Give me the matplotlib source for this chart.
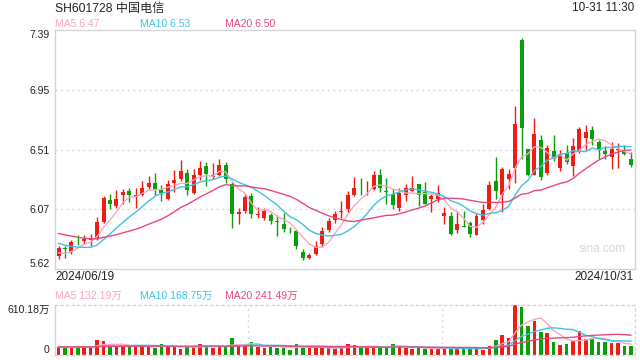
import numpy as np
import pandas as pd
import matplotlib
matplotlib.use("Agg")
import matplotlib.pyplot as plt

plt.rcParams['font.family'] = ['Liberation Sans', 'Noto Sans CJK SC', 'DejaVu Sans']

title = "SH601728 中国电信"
stamp = "10-31 11:30"
start_label = "2024/06/19"
end_label = "2024/10/31"
price_ticks = ["5.62", "6.07", "6.51", "6.95", "7.39"]
vol_max = 610.18
vol_unit = "万"

# closes of the 19 sessions before the window (estimated from the MA lines)
prev_close = [5.98, 5.99, 6.00, 5.97, 5.96, 5.95, 5.94, 5.93, 5.92, 5.92,
              5.91, 5.90, 5.88, 5.86, 5.85, 5.80, 5.74, 5.70, 5.69]
prev_vol = [98, 105, 92, 110, 101, 96, 104, 99, 93, 108,
            102, 97, 95, 100, 106, 94, 99, 103, 97]

opens = [5.719, 5.775, 5.748, 5.830, 5.827, 5.832, 5.842, 5.969, 6.134, 6.085,
         6.171, 6.200, 6.151, 6.166, 6.230, 6.259, 6.215, 6.141, 6.259, 6.289,
         6.333, 6.183, 6.318, 6.382, 6.304, 6.313, 6.392, 6.252, 6.026, 6.048,
         6.161, 6.019, 6.001, 6.021, 5.972, 5.950, 5.905, 5.903, 5.748, 5.704,
         5.731, 5.805, 5.908, 5.982, 6.041, 6.063, 6.171, 6.222, 6.225, 6.215,
         6.318, 6.197, 6.178, 6.073, 6.171, 6.200, 6.250, 6.190, 6.137, 6.141,
         6.011, 6.011, 5.908, 5.935, 5.962, 5.871, 5.982, 6.063, 6.274, 6.166,
         6.284, 6.370, 7.316, 6.505, 6.316, 6.579, 6.329, 6.491, 6.370, 6.476,
         6.383, 6.486, 6.591, 6.646, 6.564, 6.491, 6.449, 6.501, 6.500, 6.437]
highs = [5.790, 5.790, 5.832, 5.871, 5.871, 5.876, 6.004, 6.161, 6.178, 6.203,
         6.210, 6.222, 6.220, 6.274, 6.309, 6.333, 6.245, 6.281, 6.355, 6.424,
         6.363, 6.358, 6.422, 6.412, 6.404, 6.436, 6.412, 6.264, 6.073, 6.178,
         6.186, 6.080, 6.073, 6.036, 6.019, 6.036, 5.933, 5.913, 5.768, 5.736,
         5.827, 5.933, 6.001, 6.051, 6.122, 6.196, 6.301, 6.294, 6.274, 6.343,
         6.363, 6.294, 6.215, 6.223, 6.252, 6.309, 6.250, 6.264, 6.178, 6.240,
         6.080, 6.043, 6.048, 6.051, 5.974, 6.036, 6.105, 6.269, 6.453, 6.375,
         6.363, 6.830, 7.330, 6.510, 6.739, 6.609, 6.542, 6.616, 6.505, 6.537,
         6.591, 6.670, 6.690, 6.677, 6.579, 6.530, 6.562, 6.555, 6.542, 6.488]
lows = [5.697, 5.705, 5.734, 5.797, 5.802, 5.789, 5.834, 5.964, 6.063, 6.073,
        6.105, 6.117, 6.073, 6.161, 6.215, 6.171, 6.127, 6.129, 6.190, 6.274,
        6.166, 6.178, 6.277, 6.232, 6.284, 6.309, 6.257, 5.920, 5.950, 6.036,
        6.001, 5.999, 5.982, 5.952, 5.864, 5.896, 5.883, 5.766, 5.684, 5.694,
        5.724, 5.780, 5.896, 5.962, 6.001, 6.036, 6.161, 6.171, 6.166, 6.203,
        6.190, 6.105, 6.063, 6.051, 6.122, 6.195, 6.085, 6.102, 6.043, 6.117,
        5.950, 5.871, 5.883, 5.928, 5.856, 5.871, 5.950, 6.055, 6.141, 6.043,
        6.210, 6.255, 6.432, 6.310, 6.316, 6.279, 6.316, 6.420, 6.346, 6.397,
        6.309, 6.481, 6.505, 6.542, 6.437, 6.432, 6.358, 6.370, 6.464, 6.378]
closes = [5.773, 5.765, 5.817, 5.825, 5.842, 5.851, 5.969, 6.149, 6.105, 6.141,
          6.188, 6.171, 6.171, 6.222, 6.259, 6.210, 6.186, 6.252, 6.281, 6.343,
          6.203, 6.318, 6.370, 6.326, 6.313, 6.392, 6.289, 6.024, 6.043, 6.154,
          6.026, 6.024, 6.053, 5.974, 5.967, 5.915, 5.900, 5.790, 5.699, 5.724,
          5.790, 5.903, 5.979, 6.024, 6.048, 6.171, 6.223, 6.218, 6.230, 6.318,
          6.220, 6.190, 6.097, 6.186, 6.220, 6.220, 6.166, 6.105, 6.159, 6.183,
          6.038, 5.879, 5.950, 5.930, 5.879, 6.011, 6.055, 6.245, 6.195, 6.363,
          6.326, 6.697, 6.665, 6.316, 6.623, 6.302, 6.513, 6.432, 6.469, 6.412,
          6.530, 6.660, 6.638, 6.584, 6.498, 6.469, 6.505, 6.510, 6.474, 6.390]
volumes = [93.6, 81.4, 89.5, 105.8, 101.7, 89.5, 179.0, 166.8, 105.8, 105.8,
           105.8, 105.8, 113.9, 101.7, 101.7, 81.4, 134.2, 105.8, 101.7, 73.2,
           101.7, 93.6, 134.2, 105.8, 89.5, 105.8, 101.7, 207.5, 113.9, 105.8,
           158.7, 101.7, 89.5, 101.7, 89.5, 89.5, 65.1, 134.2, 93.6, 81.4,
           93.6, 93.6, 81.4, 77.3, 85.4, 134.2, 122.0, 89.5, 89.5, 101.7,
           101.7, 93.6, 134.2, 105.8, 81.4, 73.2, 89.5, 73.2, 81.4, 81.4,
           89.5, 73.2, 73.2, 81.4, 81.4, 89.5, 65.1, 113.9, 183.0, 244.0,
           205.0, 610.18, 590.0, 355.0, 415.0, 280.0, 270.0, 160.0, 122.0, 135.12,
           175.05, 287.0, 196.0, 205.0, 163.5, 155.0, 145.0, 145.0, 112.0, 103.95]

RED = '#ee1c12'
GREEN = '#0a9e0a'
C_MA5 = '#f7a6c3'
C_MA10 = '#3fc3e2'
C_MA20 = '#e9487e'
GRID = '#d9d9d9'
TXT = '#222222'

o = np.array(opens); h = np.array(highs); l = np.array(lows); c = np.array(closes)
v = np.array(volumes)
n = len(c)
x = np.arange(n)
up = c >= o
cols = np.where(up, RED, GREEN)

all_c = pd.Series(prev_close + closes)
all_v = pd.Series(prev_vol + volumes)
ma = {k: all_c.rolling(k, min_periods=1).mean().values[-n:] for k in (5, 10, 20)}
vma = {k: all_v.rolling(k, min_periods=1).mean().values[-n:] for k in (5, 10, 20)}

W, H = 640, 360
fig = plt.figure(figsize=(6.4, 3.6), dpi=100)

def fx(px):
    return px / W

def fy(py):
    return 1 - py / H

ax = fig.add_axes([fx(55), fy(269), fx(580), 239 / H])
vax = fig.add_axes([fx(55), fy(355), fx(580), 50 / H])

ymin, ymax = float(price_ticks[0]), float(price_ticks[-1])
tick_pos = np.linspace(ymin, ymax, len(price_ticks))

# price panel
for t in tick_pos[1:-1]:
    ax.axhline(t, color=GRID, lw=1.0, ls=(0, (1.5, 2.5)), zorder=0)
body_w = 0.62
ax.vlines(x, l, h, colors=cols, lw=1.0, zorder=2)
bot = np.minimum(o, c)
hgt = np.maximum(np.abs(c - o), 0.004)
ax.bar(x, hgt, bottom=bot, width=body_w, color=cols, linewidth=0, zorder=3)
ax.plot(x, ma[5], color=C_MA5, lw=1.0, zorder=4)
ax.plot(x, ma[10], color=C_MA10, lw=1.0, zorder=4)
ax.plot(x, ma[20], color=C_MA20, lw=1.0, zorder=4)
ax.set_xlim(-0.55, n - 1 + 0.65)
ax.set_ylim(ymin, ymax)
ax.set_yticks(tick_pos)
ax.set_yticklabels(price_ticks, fontsize=7.5, color=TXT)
ax.tick_params(axis='y', length=0, pad=4)
ax.set_xticks([])
labs = ax.get_yticklabels()
labs[0].set_va('bottom')
labs[-1].set_va('top')
for s in ax.spines.values():
    s.set_color('#d4d4d4')
    s.set_linewidth(1.0)
ax.text(0.985, 0.085, "sina.com", transform=ax.transAxes, ha='right', va='center',
        fontsize=8.5, color='#d6d6d6')

# volume panel
vax.bar(x, v, width=0.55, color=cols, linewidth=0, zorder=2)
vax.plot(x, vma[5], color=C_MA5, lw=1.0, zorder=3)
vax.plot(x, vma[10], color=C_MA10, lw=1.0, zorder=3)
vax.plot(x, vma[20], color=C_MA20, lw=1.0, zorder=3)
vax.set_xlim(-0.55, n - 1 + 0.65)
vax.set_ylim(0, vol_max)
vax.set_yticks([0, vol_max])
vax.set_yticklabels(["0", f"{vol_max:.2f}{vol_unit}"], fontsize=7.5, color=TXT)
vl = vax.get_yticklabels()
vl[0].set_va('bottom')
vl[1].set_va('top')
vax.tick_params(axis='y', length=0, pad=4)
vax.set_xticks([])
x0, x1 = vax.get_xlim()
for frac in (1 / 3, 2 / 3):
    vax.axvline(x0 + (x1 - x0) * frac, color=GRID, lw=1.0, ls=(0, (1.5, 2.5)), zorder=0)
for k, s in vax.spines.items():
    s.set_color('#d4d4d4')
    s.set_linewidth(1.0)
    if k != 'left':
        s.set_linestyle((0, (1.5, 2.5)))

# header texts
fig.text(fx(55), fy(9), title, fontsize=8.7, color=TXT, ha='left', va='center')
fig.text(fx(634), fy(8), stamp, fontsize=8.5, color=TXT, ha='right', va='center')
fig.text(fx(55), fy(24), f"MA5 {ma[5][-1]:.2f}", fontsize=7.5, color=C_MA5, ha='left', va='center')
fig.text(fx(140), fy(24), f"MA10 {ma[10][-1]:.2f}", fontsize=7.5, color=C_MA10, ha='left', va='center')
fig.text(fx(225), fy(24), f"MA20 {ma[20][-1]:.2f}", fontsize=7.5, color=C_MA20, ha='left', va='center')
fig.text(fx(55), fy(277), start_label, fontsize=8.5, color=TXT, ha='left', va='center')
fig.text(fx(634), fy(277), end_label, fontsize=8.5, color=TXT, ha='right', va='center')
fig.text(fx(55), fy(295.5), f"MA5 {vma[5][-1]:.2f}{vol_unit}", fontsize=7.5, color=C_MA5, ha='left', va='center')
fig.text(fx(140), fy(295.5), f"MA10 {vma[10][-1]:.2f}{vol_unit}", fontsize=7.5, color=C_MA10, ha='left', va='center')
fig.text(fx(225), fy(295.5), f"MA20 {vma[20][-1]:.2f}{vol_unit}", fontsize=7.5, color=C_MA20, ha='left', va='center')

fig.savefig("out.png", dpi=100, facecolor='white')
